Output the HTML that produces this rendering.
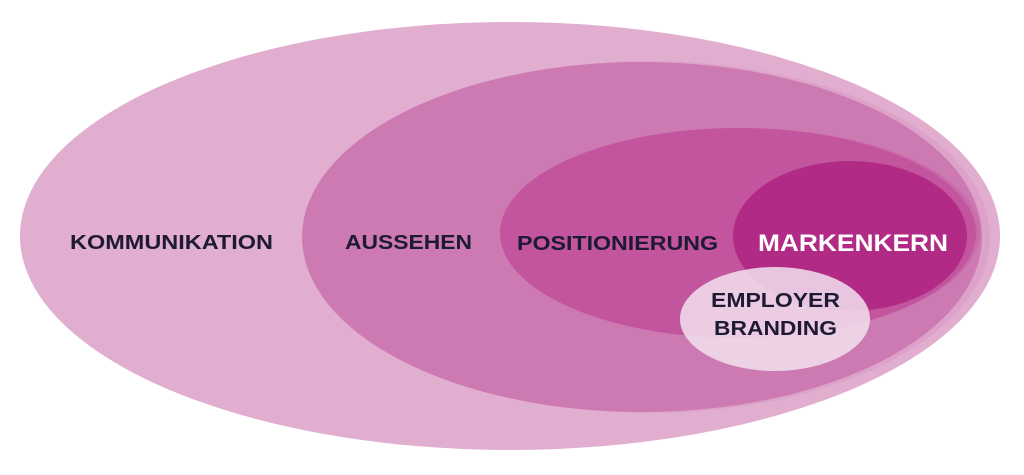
<!DOCTYPE html>
<html><head><style>
html,body{margin:0;padding:0;background:#fff;width:1024px;height:475px;overflow:hidden}
text{font-family:"Liberation Sans",sans-serif;font-weight:bold}
</style></head><body>
<svg width="1024" height="475" viewBox="0 0 1024 475">
<ellipse cx="510" cy="236" rx="490" ry="214" fill="#e2aed0"/>
<ellipse cx="648" cy="237" rx="342" ry="176" fill="#d99ac5" opacity="0.6"/>
<ellipse cx="642" cy="237" rx="340" ry="175" fill="#cd7ab2"/>
<ellipse cx="742" cy="232" rx="238" ry="104" fill="#c966a8" opacity="0.7"/>
<ellipse cx="738" cy="233" rx="238" ry="105" fill="#c2559d"/>
<ellipse cx="850" cy="236" rx="117" ry="75" fill="#b12a85"/>
<ellipse cx="775" cy="319" rx="95" ry="52" fill="#f2e2ee" opacity="0.85"/>
<g fill="#1e1a33" font-size="20">
<text x="70" y="249" textLength="203" lengthAdjust="spacingAndGlyphs">KOMMUNIKATION</text>
<text x="345" y="249" textLength="127" lengthAdjust="spacingAndGlyphs">AUSSEHEN</text>
<text x="517" y="250" textLength="201" lengthAdjust="spacingAndGlyphs">POSITIONIERUNG</text>
<text x="711" y="307" textLength="129" lengthAdjust="spacingAndGlyphs">EMPLOYER</text>
<text x="714" y="335" textLength="123" lengthAdjust="spacingAndGlyphs">BRANDING</text>
</g>
<text x="758" y="251" textLength="190" lengthAdjust="spacingAndGlyphs" fill="#fff" font-size="24">MARKENKERN</text>
</svg>
</body></html>
